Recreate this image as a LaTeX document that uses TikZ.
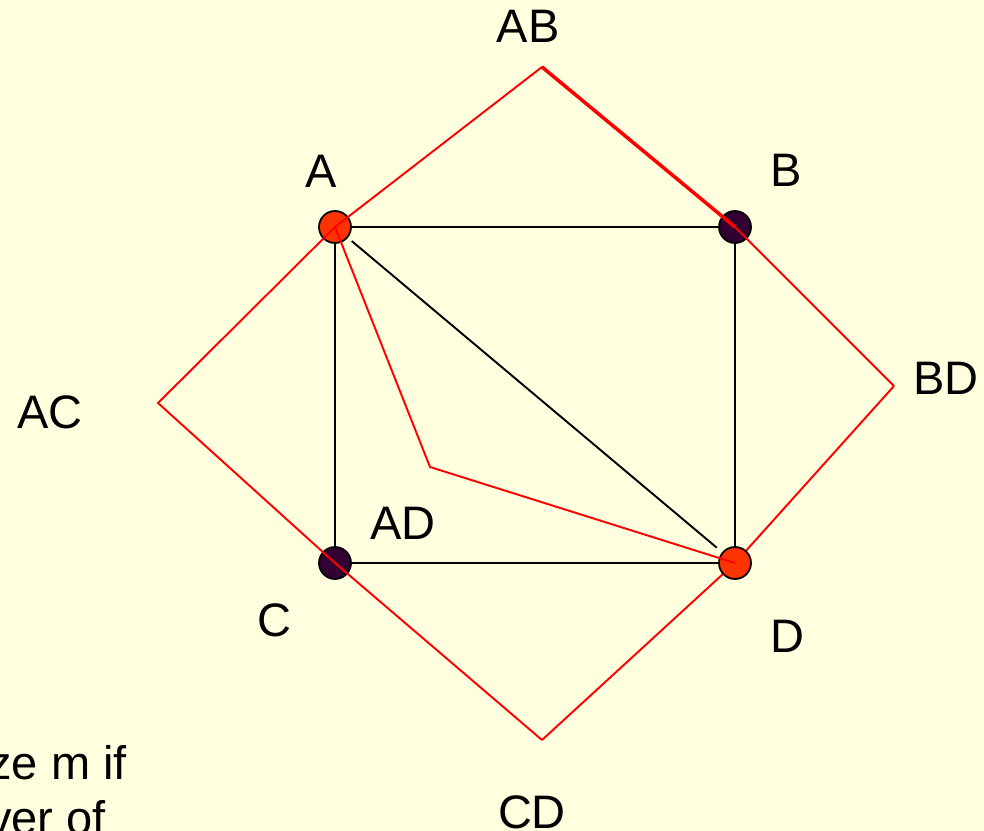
\documentclass[tikz,border=0pt]{standalone}
\usepackage{fontspec}
\setmainfont{Liberation Sans}
\usepackage{tikz}
\usetikzlibrary{backgrounds}
\definecolor{paper}{HTML}{FFFFE0}
\definecolor{hotred}{HTML}{FF3300}
\definecolor{plum}{HTML}{330033}

\begin{document}
\begin{tikzpicture}[
  x=0.02cm, y=-0.02cm,
  vtx/.style={draw, circle, line width=1pt, minimum size=0.64cm, inner sep=0pt},
  lbl/.style={font=\fontsize{26.75}{32}\selectfont, inner sep=0pt, anchor=base},
  edge/.style={line width=1.1pt},
  tour/.style={red, line width=1.1pt}
]
  \useasboundingbox (0,0) rectangle (984,831);
  \clip (0,0) rectangle (984,831);

  % vertices
  \node[vtx, fill=hotred] (A) at (335,227) {};
  \node[vtx, fill=plum] (B) at (735,227) {};
  \node[vtx, fill=plum] (C) at (335,563) {};
  \node[vtx, fill=hotred] (D) at (735,563) {};

  % turning points of the tour
  \coordinate (AB) at (542,67);
  \coordinate (BD) at (894,386);
  \coordinate (CD) at (542,740);
  \coordinate (AC) at (158,403);
  \coordinate (AD) at (430,467);

  \begin{scope}[on background layer]
    \fill[paper] (0,0) rectangle (984,831);
    \draw[edge] (A) -- (B) -- (D) -- (C) -- (A);
    \draw[edge, shorten <=0.1cm, shorten >=0.14cm] (A) -- (D);
    \draw[tour] (BD) -- (D.center) -- (CD);
  \end{scope}

  \draw[tour] (CD) -- (C.center) -- (AC) -- (A.center) -- (AB) -- (B.center) -- (BD);
  \draw[tour, line width=2pt] (AB) -- (B.center);
  \draw[tour] (A.center) -- (AD) -- (D.center);

  % labels
  \node[lbl] (lAB) at (528,43) {AB};
  \node[lbl] (lA) at (321,188) {A};
  \node[lbl] (lB) at (786,187) {B};
  \node[lbl] (lBD) at (946,394) {BD};
  \node[lbl] (lAC) at (50,428) {AC};
  \node[lbl] (lAD) at (403,539) {AD};
  \node[lbl] (lC) at (274,636) {C};
  \node[lbl] (lD) at (787,652) {D};
  \node[lbl] (lCD) at (532,828) {CD};

  \node[lbl, anchor=base west, align=left] (note) at (-12,834) {ze m if\\[-1pt]ver of};
\end{tikzpicture}
\end{document}
